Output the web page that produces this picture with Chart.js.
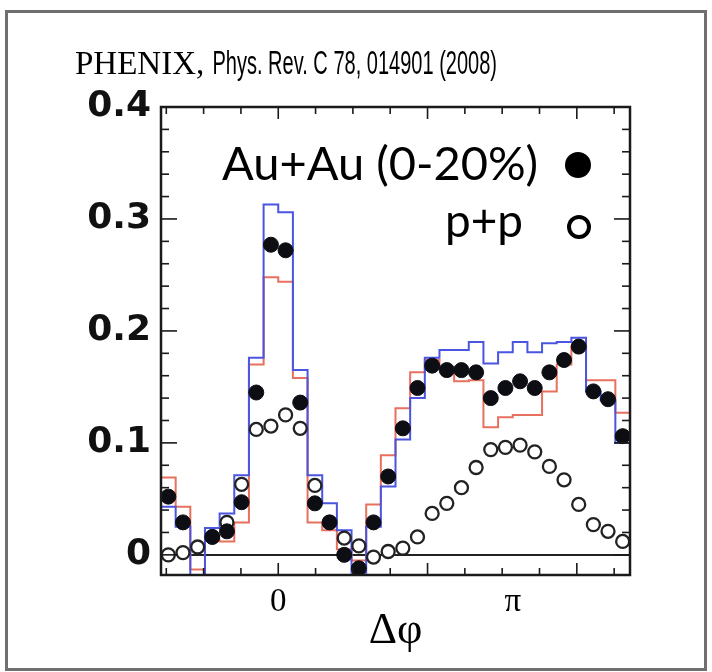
<!DOCTYPE html>
<html>
<head>
<meta charset="utf-8">
<script src="https://cdn.jsdelivr.net/npm/chart.js@4.4.1/dist/chart.umd.min.js"></script>
<style>
  html, body { margin: 0; padding: 0; background: #fff; }
  canvas { display: block; }
</style>
</head>
<body>
<canvas id="corr" width="712" height="672"></canvas>
<script>
// Δφ binning: 32 bins of π/16 between -π/2 and 3π/2
const binCount = 32;
const phiMin = -Math.PI / 2;
const phiMax = 3 * Math.PI / 2;

// Au+Au (0-20%), filled circles, one value per bin
const auau = [
  0.052, 0.029, -0.025, 0.016, 0.021, 0.047, 0.145, 0.277,
  0.272, 0.136, 0.046, 0.029, 0.000, -0.012, 0.029, 0.070,
  0.113, 0.149, 0.169, 0.165, 0.165, 0.163, 0.140, 0.149,
  0.155, 0.149, 0.163, 0.174, 0.186, 0.146, 0.139, 0.106
];

// p+p, open circles
const pp = [
  0.000, 0.002, 0.007, 0.016, 0.029, 0.063, 0.112, 0.115,
  0.125, 0.113, 0.062, 0.029, 0.015, 0.008, -0.002, 0.003,
  0.006, 0.016, 0.037, 0.046, 0.060, 0.078, 0.094, 0.096,
  0.098, 0.092, 0.079, 0.067, 0.045, 0.027, 0.021, 0.012
];

// systematic band edges (step histograms)
const sysBlue = [
  0.043, 0.025, -0.030, 0.024, 0.037, 0.071, 0.176, 0.313,
  0.306, 0.165, 0.071, 0.046, 0.022, -0.016, 0.025, 0.061,
  0.103, 0.140, 0.176, 0.183, 0.183, 0.190, 0.171, 0.181,
  0.190, 0.181, 0.189, 0.190, 0.194, 0.146, 0.138, 0.100
];
const sysRed = [
  0.069, 0.043, -0.013, 0.013, 0.012, 0.029, 0.170, 0.248,
  0.244, 0.158, 0.029, 0.022, 0.005, -0.005, 0.045, 0.089,
  0.131, 0.163, 0.174, 0.168, 0.155, 0.156, 0.114, 0.123,
  0.125, 0.125, 0.146, 0.170, 0.186, 0.156, 0.156, 0.127
];

const yTickLabels = [0, 0.1, 0.2, 0.3, 0.4];
const xTickValues = [0, Math.PI];
const xTickLabels = ["0", "π"];

const binWidth = (phiMax - phiMin) / binCount;

function asPoints(vals) {
  return vals.map((v, i) => ({ x: phiMin + (i + 0.5) * binWidth, y: v }));
}

function asSteps(vals) {
  const pts = vals.map((v, i) => ({ x: phiMin + i * binWidth, y: v }));
  pts.push({ x: phiMax, y: vals[vals.length - 1] });
  return pts;
}

function line(ctx, x1, y1, x2, y2) {
  ctx.beginPath();
  ctx.moveTo(x1, y1);
  ctx.lineTo(x2, y2);
  ctx.stroke();
}

// fit a text run to a given width by picking the font size
function fitFont(ctx, text, family, width) {
  ctx.font = "40px " + family;
  const size = 40 * width / ctx.measureText(text).width;
  return size.toFixed(1) + "px " + family;
}

// draw text squeezed horizontally so it spans a given width
function narrowText(ctx, text, font, x, y, width) {
  ctx.font = font;
  const sx = width / ctx.measureText(text).width;
  ctx.save();
  ctx.translate(x, y);
  ctx.scale(sx, 1);
  ctx.fillText(text, 0, 0);
  ctx.restore();
}

const decor = {
  id: "decor",
  afterDraw(chart) {
    const { ctx, chartArea: a, scales: { x, y } } = chart;
    ctx.save();

    // slide border
    ctx.strokeStyle = "#6f6f6f";
    ctx.lineWidth = 3;
    ctx.strokeRect(6.5, 11.5, 699, 658);

    // plot frame
    ctx.strokeStyle = "#1a1a1a";
    ctx.lineWidth = 2.5;
    ctx.strokeRect(a.left, a.top, a.right - a.left, a.bottom - a.top);

    // inward ticks
    ctx.lineWidth = 1.6;
    for (let i = 0; i <= 20; i++) {
      const py = y.getPixelForValue(i * 0.02);
      const len = i % 5 === 0 ? 16 : 8;
      line(ctx, a.left, py, a.left + len, py);
      line(ctx, a.right, py, a.right - len, py);
    }
    for (let i = -3; i <= 9; i++) {
      const px = x.getPixelForValue(i * 0.5);
      const len = i % 4 === 0 ? 12 : 7;
      line(ctx, px, a.bottom, px, a.bottom - len);
      line(ctx, px, a.top, px, a.top + len);
    }

    // reference line
    ctx.fillStyle = "#000";
    ctx.textBaseline = "alphabetic";
    ctx.textAlign = "left";
    ctx.font = "33px 'Liberation Serif', serif";
    const head = "PHENIX, ";
    ctx.fillText(head, 75, 74);
    const headW = ctx.measureText(head).width;
    narrowText(ctx, "Phys. Rev. C 78, 014901 (2008)", "34px 'Liberation Sans', sans-serif",
      75 + headW, 74, 497 - 75 - headW);

    // legend
    ctx.font = fitFont(ctx, "Au+Au (0-20%)", "Lato, 'Open Sans', sans-serif", 316);
    ctx.fillText("Au+Au (0-20%)", 222, 180);
    ctx.font = fitFont(ctx, "p+p", "Lato, 'Open Sans', sans-serif", 78);
    ctx.fillText("p+p", 445, 237);

    ctx.fillStyle = "#000";
    ctx.beginPath();
    ctx.arc(578, 165, 13, 0, Math.PI * 2);
    ctx.fill();
    ctx.strokeStyle = "#000";
    ctx.lineWidth = 4;
    ctx.beginPath();
    ctx.arc(579, 227, 10, 0, Math.PI * 2);
    ctx.stroke();

    ctx.restore();
  }
};

new Chart(document.getElementById("corr"), {
  type: "scatter",
  data: {
    datasets: [
      {
        label: "Au+Au (0-20%)",
        data: asPoints(auau),
        pointRadius: 7.5,
        pointBackgroundColor: "#0d0d14",
        pointBorderColor: "#0d0d14",
        pointBorderWidth: 1,
        clip: 0,
        order: 0
      },
      {
        label: "p+p",
        data: asPoints(pp),
        pointRadius: 6.5,
        pointBackgroundColor: "#ffffff",
        pointBorderColor: "#222222",
        pointBorderWidth: 2.3,
        clip: 0,
        order: 1
      },
      {
        label: "sys high",
        data: asSteps(sysBlue),
        showLine: true,
        stepped: "before",
        borderColor: "#4a55e0",
        borderWidth: 2,
        pointRadius: 0,
        clip: 0,
        order: 2
      },
      {
        label: "sys low",
        data: asSteps(sysRed),
        showLine: true,
        stepped: "before",
        borderColor: "#e8705f",
        borderWidth: 2,
        pointRadius: 0,
        clip: 0,
        order: 3
      }
    ]
  },
  options: {
    responsive: false,
    devicePixelRatio: 1,
    animation: false,
    layout: { padding: { top: 107, right: 82, left: 0, bottom: 0 } },
    scales: {
      x: {
        type: "linear",
        min: phiMin,
        max: phiMax,
        afterFit: (s) => { s.height = 97; },
        afterBuildTicks: (s) => { s.ticks = xTickValues.map((v) => ({ value: v })); },
        grid: { display: false, drawTicks: false },
        border: { display: false },
        ticks: {
          autoSkip: false,
          maxRotation: 0,
          padding: 8,
          color: "#000",
          font: { family: "'Liberation Serif', serif", size: 33 },
          callback: (v, i) => xTickLabels[i]
        },
        title: {
          display: true,
          text: "Δφ",
          color: "#000",
          font: { family: "'Liberation Serif', serif", size: 44 },
          padding: { top: 0, bottom: 14 }
        }
      },
      y: {
        min: -0.018,
        max: 0.4,
        afterFit: (s) => { s.width = 161; },
        afterBuildTicks: (s) => { s.ticks = yTickLabels.map((v) => ({ value: v })); },
        grid: {
          drawTicks: false,
          lineWidth: 2,
          color: (c) => (c.tick && c.tick.value === 0 ? "#222" : "rgba(0,0,0,0)")
        },
        border: { display: false },
        ticks: {
          padding: 10,
          color: "#111",
          font: { family: "'DejaVu Sans', sans-serif", size: 36, weight: "bold" },
          callback: (v) => (v === 0 ? "0" : v.toFixed(1))
        }
      }
    },
    plugins: {
      legend: { display: false },
      tooltip: { enabled: false }
    }
  },
  plugins: [decor]
});
</script>
</body>
</html>
